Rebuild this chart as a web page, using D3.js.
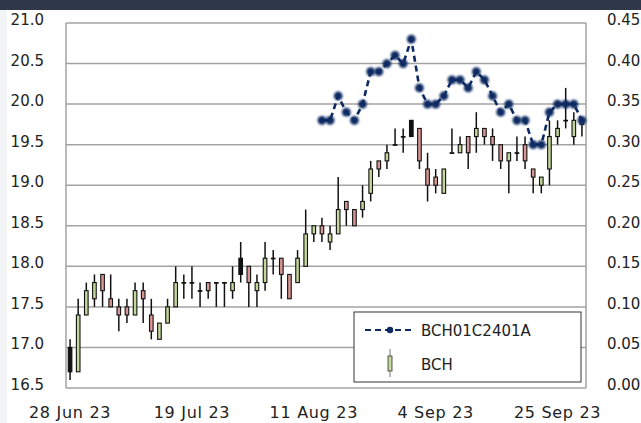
<!DOCTYPE html>
<html><head><meta charset="utf-8">
<script src="https://cdn.jsdelivr.net/npm/d3@7/dist/d3.min.js"></script>
<style>
body{margin:0;background:#fff;}
svg text{font-family:"DejaVu Sans",sans-serif;font-size:15px;fill:#222;}
</style>
</head><body>
<svg id="chart" width="641" height="423"></svg>
<script>
// ---- data ----
const openVals  = [17.00,16.70,17.40,17.60,17.90,17.60,17.50,17.50,17.40,17.70,17.40,17.10,17.30,17.50,17.80,17.80,17.70,17.80,17.80,17.80,17.70,18.10,18.00,17.70,17.80,18.10,18.10,17.90,17.80,18.00,18.40,18.50,18.30,18.40,18.80,18.70,18.70,18.90,19.30,19.30,19.50,19.60,19.80,19.70,19.20,19.10,18.90,19.40,19.40,19.60,19.60,19.70,19.60,19.50,19.30,19.40,19.50,19.20,19.00,19.20,19.60,19.80,19.60,19.80];
const highVals  = [17.10,17.60,17.80,17.90,17.90,17.90,17.60,17.60,17.80,17.80,17.60,17.30,17.60,18.00,17.90,18.00,17.80,17.80,17.80,17.80,18.00,18.30,18.00,17.90,18.30,18.20,18.10,17.90,18.20,18.70,18.50,18.60,18.50,19.10,18.80,18.70,19.00,19.30,19.30,19.50,19.70,19.70,19.80,19.70,19.40,19.20,19.20,19.70,19.60,19.60,19.90,19.70,19.70,19.50,19.40,19.60,19.60,19.20,19.10,19.80,19.80,20.20,19.90,19.80];
const lowVals   = [16.60,16.70,17.40,17.50,17.50,17.50,17.20,17.30,17.40,17.30,17.10,17.10,17.30,17.50,17.60,17.60,17.50,17.60,17.50,17.50,17.60,17.80,17.50,17.50,17.70,17.90,17.60,17.60,17.80,18.00,18.30,18.30,18.20,18.40,18.50,18.50,18.60,18.80,19.10,19.20,19.50,19.40,19.60,19.20,18.80,18.90,18.90,19.40,19.40,19.20,19.40,19.50,19.30,19.20,18.90,19.30,19.20,18.90,18.90,19.00,19.50,19.70,19.50,19.60];
const closeVals = [16.70,17.40,17.70,17.80,17.70,17.50,17.40,17.40,17.70,17.60,17.20,17.30,17.50,17.80,17.80,17.80,17.70,17.70,17.80,17.80,17.80,17.90,17.80,17.80,18.10,18.10,17.90,17.60,18.10,18.40,18.50,18.40,18.40,18.70,18.70,18.50,18.80,19.20,19.20,19.40,19.50,19.60,19.60,19.30,19.00,19.00,19.20,19.40,19.50,19.40,19.70,19.60,19.50,19.30,19.40,19.40,19.30,19.10,19.10,19.60,19.70,19.80,19.80,19.75];
const optionStart  = 31;   // first trading day index with an option price
const optionValues = [0.33,0.33,0.36,0.34,0.33,0.35,0.39,0.39,0.40,0.41,0.40,0.43,0.37,0.35,0.35,0.36,0.38,0.38,0.37,0.39,0.38,0.36,0.34,0.35,0.33,0.33,0.30,0.30,0.34,0.35,0.35,0.35,0.33];
const dateTickIndex  = [0,15,30,45,60];
const dateTickLabels = ["28 Jun 23","19 Jul 23","11 Aug 23","4 Sep 23","25 Sep 23"];
const leftTicks  = [16.5,17.0,17.5,18.0,18.5,19.0,19.5,20.0,20.5,21.0];
const rightTicks = [0,0.05,0.10,0.15,0.20,0.25,0.30,0.35,0.40,0.45];
const seriesNames = ["BCH01C2401A","BCH"];

// ---- drawing ----
const svg = d3.select("#chart");
const L = 66, R = 586, T = 23, B = 388;
const n = openVals.length;
const x = d3.scaleBand().domain(d3.range(n)).range([L, R]);
const yL = d3.scaleLinear().domain([16.5, 21.0]).range([B, T]);
const yR = d3.scaleLinear().domain([0, 0.45]).range([B, T]);
const cx = i => x(i) + x.bandwidth() / 2;

const GRID = "#a3a3a3", NAVY = "#0d2a62", UP = "#c4d79b", DOWN = "#da9694";

svg.append("rect").attr("x",0).attr("y",0).attr("width",641).attr("height",423).attr("fill","#fff");
svg.append("rect").attr("x",0).attr("y",0).attr("width",7).attr("height",423).attr("fill","#f3f4f6");
svg.append("rect").attr("x",0).attr("y",0).attr("width",641).attr("height",10).attr("fill","#2f3848");

const defs = svg.append("defs");
defs.append("filter").attr("id","soft").attr("x","-50%").attr("y","-50%").attr("width","200%").attr("height","200%")
  .append("feGaussianBlur").attr("stdDeviation",0.9);

// gridlines
svg.append("g").selectAll("line").data(leftTicks).join("line")
  .attr("x1", L).attr("x2", R).attr("y1", d => yL(d)).attr("y2", d => yL(d))
  .attr("stroke", GRID).attr("stroke-width", 1.5);
// frame verticals
svg.append("line").attr("x1",L).attr("x2",L).attr("y1",T).attr("y2",B).attr("stroke",GRID).attr("stroke-width",1.5);
svg.append("line").attr("x1",R).attr("x2",R).attr("y1",T).attr("y2",B).attr("stroke",GRID).attr("stroke-width",1.5);

// left axis labels
svg.append("g").selectAll("text").data(leftTicks).join("text")
  .attr("x", 44).attr("y", d => yL(d) + 2).attr("text-anchor","end")
  .text(d => d3.format(".1f")(d));
// right axis labels
svg.append("g").selectAll("text").data(rightTicks).join("text")
  .attr("x", 607).attr("y", d => yR(d) + 2).attr("text-anchor","start")
  .text(d => d3.format(".2f")(d));
// date labels
svg.append("g").selectAll("text").data(dateTickIndex).join("text")
  .attr("x", d => cx(d)).attr("y", 418).attr("text-anchor","middle")
  .style("font-size","16px").style("letter-spacing","0.7px")
  .text((d,i) => dateTickLabels[i]);

// candles
const solid = new Set([0, 21, 42]);
const cg = svg.append("g");
const bw = 3.6;
d3.range(n).forEach(i => {
  const o = openVals[i], c = closeVals[i], h = highVals[i], l = lowVals[i];
  cg.append("line").attr("x1",cx(i)).attr("x2",cx(i)).attr("y1",yL(h)).attr("y2",yL(l))
    .attr("stroke","#111").attr("stroke-width",1.5);
  const top = yL(Math.max(o,c)), bot = yL(Math.min(o,c));
  const fill = solid.has(i) ? "#111" : (c > o ? UP : (c < o ? DOWN : "#111"));
  cg.append("rect").attr("x",cx(i)-bw/2).attr("width",bw)
    .attr("y",top).attr("height",Math.max(bot-top,0.6))
    .attr("fill",fill).attr("stroke","#111").attr("stroke-width",1.1);
});

// option line
const optData = optionValues.map((v,k) => ({i: optionStart + k, v}));
svg.append("path").datum(optData)
  .attr("d", d3.line().x(d => cx(d.i)).y(d => yR(d.v)))
  .attr("fill","none").attr("stroke",NAVY).attr("stroke-width",2.6).attr("stroke-dasharray","6,4");
svg.append("g").selectAll("circle").data(optData).join("circle")
  .attr("cx", d => cx(d.i)).attr("cy", d => yR(d.v)).attr("r", 4.4)
  .attr("fill", NAVY).attr("filter","url(#soft)");

// legend
const lg = svg.append("g");
lg.append("rect").attr("x",354).attr("y",312).attr("width",227).attr("height",70)
  .attr("fill","#fff").attr("stroke","#333").attr("stroke-width",1);
lg.append("line").attr("x1",365).attr("x2",414).attr("y1",330).attr("y2",330)
  .attr("stroke",NAVY).attr("stroke-width",2).attr("stroke-dasharray","6,4");
lg.append("circle").attr("cx",390).attr("cy",330).attr("r",3.2).attr("fill",NAVY);
lg.append("text").attr("x",421).attr("y",336).text(seriesNames[0]);
lg.append("line").attr("x1",390).attr("x2",390).attr("y1",349).attr("y2",377).attr("stroke","#777").attr("stroke-width",1);
lg.append("rect").attr("x",388).attr("y",356).attr("width",4).attr("height",15)
  .attr("fill",UP).attr("stroke","#333").attr("stroke-width",0.8);
lg.append("text").attr("x",421).attr("y",370).text(seriesNames[1]);
</script>
</body></html>
